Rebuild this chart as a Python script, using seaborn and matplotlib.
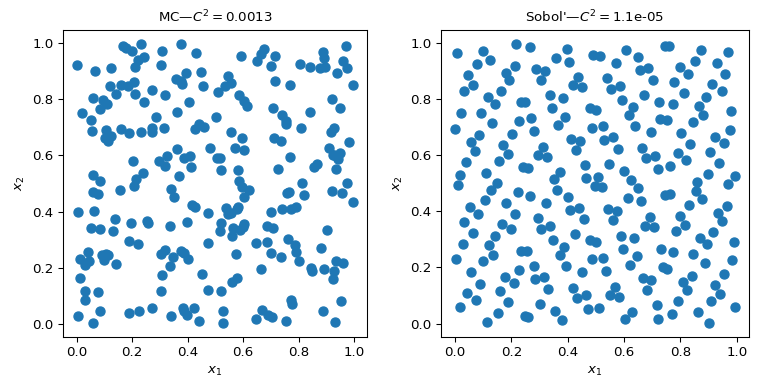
import matplotlib
matplotlib.use("Agg")
import matplotlib.pyplot as plt
import seaborn as sns

# Points (256 each in the original, ~250 recovered here)
mc_x = [
    0.000, 0.166, 0.177, 0.199, 0.231, 0.309, 0.376, 0.429, 0.220, 0.244,
    0.209, 0.305, 0.067, 0.124, 0.447, 0.394, 0.358, 0.376, 0.381, 0.456,
    0.120, 0.160, 0.185, 0.206, 0.142, 0.209, 0.273, 0.319, 0.060, 0.096,
    0.108, 0.085, 0.242, 0.406, 0.018, 0.050, 0.361, 0.284, 0.055, 0.104,
    0.160, 0.188, 0.231, 0.271, 0.271, 0.315, 0.440, 0.426, 0.459, 0.102,
    0.123, 0.112, 0.362, 0.202, 0.296, 0.325, 0.319, 0.388, 0.409, 0.411,
    0.060, 0.082, 0.240, 0.213, 0.367,
    0.677, 0.663, 0.651, 0.592, 0.716, 0.699, 0.805, 0.841, 0.887, 0.893,
    0.878, 0.896, 0.971, 0.961, 0.973, 0.939, 0.997, 0.545, 0.557, 0.533,
    0.510, 0.586, 0.604, 0.614, 0.716, 0.768, 0.706, 0.740, 0.755, 0.755,
    0.841, 0.807, 0.922, 0.950, 0.502, 0.926, 0.916, 0.557, 0.596, 0.982,
    0.482, 0.571, 0.603, 0.711, 0.737, 0.911, 0.929, 0.949, 0.943, 0.923,
    0.506, 0.518, 0.770, 0.521, 0.583, 0.724, 0.855, 0.867, 0.935,
    0.206, 0.156, 0.060, 0.078, 0.341, 0.349, 0.004, 0.063, 0.414, 0.426,
    0.136, 0.050, 0.085, 0.130, 0.195, 0.252, 0.255, 0.335, 0.397,
    0.190, 0.219, 0.039, 0.010, 0.031, 0.045, 0.090, 0.104, 0.114,
    0.099, 0.140, 0.305, 0.317, 0.348, 0.376, 0.388, 0.402, 0.337, 0.309,
    0.453, 0.013, 0.031, 0.031, 0.075, 0.305, 0.004, 0.057, 0.085,
    0.190, 0.224, 0.270, 0.341, 0.382, 0.388, 0.397, 0.421, 0.440,
    0.586, 0.597, 0.621, 0.603, 0.812, 0.973, 0.758, 0.766, 0.819, 0.922,
    0.958, 0.997, 0.475, 0.539, 0.545, 0.557, 0.577, 0.583, 0.699, 0.740,
    0.772, 0.790, 0.521, 0.518, 0.565, 0.559, 0.590, 0.603, 0.601, 0.687,
    0.706, 0.904, 0.645, 0.686, 0.763, 0.787, 0.792, 0.472, 0.701, 0.737,
    0.802, 0.575, 0.880, 0.846, 0.849, 0.890, 0.935, 0.961, 0.929, 0.924,
    0.666, 0.559, 0.579, 0.472, 0.521, 0.772, 0.778, 0.952, 0.667, 0.645,
    0.690, 0.703, 0.755, 0.527, 0.527, 0.887, 0.933,
]
mc_y = [
    0.921, 0.988, 0.979, 0.971, 0.995, 0.971, 0.995, 0.963, 0.939, 0.947,
    0.914, 0.921, 0.900, 0.908, 0.896, 0.893, 0.870, 0.865, 0.853, 0.845,
    0.845, 0.850, 0.845, 0.861, 0.819, 0.819, 0.833, 0.813, 0.802, 0.796,
    0.781, 0.764, 0.790, 0.788, 0.749, 0.724, 0.755, 0.737, 0.686, 0.689,
    0.694, 0.678, 0.682, 0.696, 0.682, 0.696, 0.710, 0.694, 0.700, 0.661,
    0.667, 0.649, 0.621, 0.578, 0.580, 0.596, 0.561, 0.590, 0.596, 0.558,
    0.529, 0.508, 0.536, 0.517, 0.527,
    0.976, 0.959, 0.935, 0.951, 0.951, 0.918, 0.925, 0.914, 0.968, 0.945,
    0.908, 0.914, 0.988, 0.933, 0.909, 0.892, 0.850, 0.880, 0.856, 0.845,
    0.823, 0.812, 0.792, 0.776, 0.865, 0.850, 0.769, 0.741, 0.723, 0.709,
    0.755, 0.695, 0.799, 0.766, 0.735, 0.697, 0.684, 0.682, 0.660, 0.647,
    0.625, 0.625, 0.617, 0.661, 0.651, 0.624, 0.600, 0.609, 0.585, 0.602,
    0.590, 0.590, 0.592, 0.549, 0.549, 0.552, 0.558, 0.567, 0.551,
    0.490, 0.476, 0.470, 0.462, 0.479, 0.452, 0.399, 0.403, 0.423, 0.415,
    0.373, 0.343, 0.338, 0.331, 0.359, 0.366, 0.358, 0.349, 0.364,
    0.297, 0.285, 0.258, 0.231, 0.211, 0.223, 0.246, 0.250, 0.245,
    0.229, 0.212, 0.250, 0.264, 0.237, 0.261, 0.252, 0.233, 0.205, 0.173,
    0.177, 0.163, 0.119, 0.087, 0.115, 0.119, 0.028, 0.005, 0.045,
    0.039, 0.046, 0.059, 0.028, 0.057, 0.046, 0.034, 0.057, 0.011,
    0.509, 0.488, 0.476, 0.450, 0.502, 0.502, 0.466, 0.470, 0.458, 0.473,
    0.466, 0.435, 0.396, 0.411, 0.390, 0.393, 0.409, 0.417, 0.398, 0.410,
    0.409, 0.417, 0.358, 0.332, 0.340, 0.313, 0.335, 0.356, 0.344, 0.349,
    0.340, 0.335, 0.290, 0.293, 0.304, 0.280, 0.258, 0.290, 0.254, 0.237,
    0.223, 0.250, 0.272, 0.201, 0.190, 0.197, 0.223, 0.217, 0.190, 0.161,
    0.197, 0.151, 0.164, 0.123, 0.119, 0.087, 0.070, 0.084, 0.052, 0.017,
    0.031, 0.024, 0.011, 0.048, 0.004, 0.046, 0.007,
]

sobol_x = [
    0.007, 0.099, 0.125, 0.079, 0.216, 0.266, 0.397, 0.358, 0.404, 0.047,
    0.064, 0.182, 0.192, 0.214, 0.287, 0.319, 0.305, 0.436, 0.419, 0.452,
    0.032, 0.163, 0.117, 0.143, 0.233, 0.250, 0.337, 0.383, 0.020, 0.092,
    0.344, 0.131, 0.227, 0.270, 0.280, 0.365, 0.390, 0.000, 0.057, 0.071,
    0.085, 0.170, 0.188, 0.202, 0.156, 0.312, 0.294, 0.326, 0.240, 0.258,
    0.413, 0.443, 0.429, 0.039, 0.018, 0.110, 0.461, 0.351, 0.372, 0.465,
    0.489, 0.514, 0.606, 0.649, 0.571, 0.657, 0.685, 0.744, 0.758, 0.872,
    0.968, 0.851, 0.929, 0.798, 0.826, 0.959, 0.539, 0.553, 0.585, 0.702,
    0.777, 0.812, 0.670, 0.594, 0.631, 0.616, 0.724, 0.773, 0.911, 0.947,
    0.890, 0.865, 0.880, 0.981, 0.478, 0.501, 0.486, 0.525, 0.638, 0.729,
    0.753, 0.844, 0.695, 0.802, 0.975, 0.528, 0.560, 0.578, 0.663, 0.677,
    0.709, 0.833, 0.922, 0.954, 0.791, 0.819, 0.904, 0.546, 0.599, 0.625,
    0.720, 0.763, 0.936, 0.897, 0.993, 0.507,
    0.012, 0.149, 0.128, 0.106, 0.224, 0.266, 0.362, 0.401, 0.322, 0.181,
    0.052, 0.082, 0.213, 0.408, 0.441, 0.458, 0.032, 0.167, 0.198, 0.294,
    0.305, 0.337, 0.064, 0.143, 0.426, 0.348, 0.121, 0.028, 0.387, 0.372,
    0.233, 0.255, 0.135, 0.099, 0.002, 0.280, 0.394, 0.057, 0.227, 0.177,
    0.209, 0.284, 0.316, 0.450, 0.330, 0.089, 0.160, 0.419, 0.043, 0.075,
    0.188, 0.302, 0.433, 0.465, 0.018, 0.153, 0.248, 0.259, 0.355, 0.380,
    0.114, 0.472,
    0.498, 0.521, 0.649, 0.614, 0.661, 0.858, 0.968, 0.856, 0.876, 0.744,
    0.763, 0.830, 0.933, 0.965, 0.947, 0.543, 0.575, 0.560, 0.693, 0.674,
    0.706, 0.798, 0.816, 0.784, 0.915, 0.869, 0.894, 0.989, 0.478, 0.501,
    0.589, 0.635, 0.596, 0.731, 0.773, 0.844, 0.645, 0.486, 0.525, 0.621,
    0.536, 0.738, 0.752, 0.887, 0.982, 0.954, 0.841, 0.667, 0.695, 0.810,
    0.681, 0.823, 0.922, 0.940, 0.567, 0.550, 0.582, 0.716, 0.791, 0.908,
    0.994, 0.511, 0.628, 0.603, 0.720, 0.770, 0.862, 0.901,
]
sobol_y = [
    0.963, 0.971, 0.939, 0.923, 0.995, 0.985, 0.978, 0.946, 0.932, 0.886,
    0.850, 0.893, 0.865, 0.918, 0.907, 0.900, 0.865, 0.879, 0.850, 0.843,
    0.826, 0.826, 0.806, 0.781, 0.788, 0.788, 0.812, 0.804, 0.749, 0.749,
    0.766, 0.713, 0.721, 0.730, 0.686, 0.706, 0.734, 0.691, 0.645, 0.614,
    0.670, 0.635, 0.603, 0.675, 0.578, 0.628, 0.600, 0.592, 0.558, 0.555,
    0.656, 0.649, 0.617, 0.575, 0.529, 0.536, 0.564, 0.515, 0.539, 0.519,
    0.956, 0.953, 0.974, 0.949, 0.928, 0.903, 0.910, 0.988, 0.988, 0.974,
    0.967, 0.935, 0.928, 0.914, 0.889, 0.889, 0.875, 0.836, 0.847, 0.868,
    0.860, 0.822, 0.815, 0.797, 0.769, 0.741, 0.790, 0.783, 0.854, 0.829,
    0.808, 0.776, 0.741, 0.755, 0.766, 0.759, 0.695, 0.702, 0.702, 0.727,
    0.723, 0.717, 0.681, 0.677, 0.688, 0.653, 0.663, 0.621, 0.624, 0.589,
    0.596, 0.638, 0.663, 0.642, 0.607, 0.582, 0.610, 0.568, 0.543, 0.511,
    0.550, 0.561, 0.571, 0.532, 0.525, 0.521,
    0.494, 0.502, 0.476, 0.441, 0.469, 0.455, 0.476, 0.450, 0.430, 0.430,
    0.416, 0.391, 0.391, 0.405, 0.412, 0.373, 0.363, 0.356, 0.335, 0.377,
    0.338, 0.349, 0.324, 0.310, 0.320, 0.299, 0.278, 0.285, 0.272, 0.243,
    0.257, 0.260, 0.243, 0.221, 0.230, 0.204, 0.204, 0.183, 0.190, 0.165,
    0.144, 0.158, 0.165, 0.183, 0.123, 0.140, 0.115, 0.126, 0.108, 0.084,
    0.077, 0.070, 0.091, 0.101, 0.059, 0.039, 0.027, 0.024, 0.045, 0.013,
    0.006, 0.052,
    0.490, 0.485, 0.482, 0.446, 0.438, 0.503, 0.497, 0.472, 0.444, 0.458,
    0.462, 0.423, 0.395, 0.419, 0.366, 0.409, 0.402, 0.370, 0.380, 0.349,
    0.342, 0.384, 0.352, 0.331, 0.327, 0.306, 0.282, 0.289, 0.297, 0.292,
    0.313, 0.303, 0.267, 0.264, 0.253, 0.246, 0.239, 0.229, 0.232, 0.207,
    0.186, 0.200, 0.193, 0.214, 0.225, 0.176, 0.168, 0.161, 0.154, 0.147,
    0.119, 0.119, 0.137, 0.105, 0.130, 0.101, 0.094, 0.066, 0.080, 0.080,
    0.059, 0.055, 0.041, 0.017, 0.017, 0.034, 0.041, 0.002,
]

titles = ["MC\u2014$C^2 = $0.0013", "Sobol'\u2014$C^2 = $1.1e-05"]

fig = plt.figure(figsize=(8, 4), dpi=96)
ax1 = fig.add_axes([63 / 768, 47 / 384, 304 / 768, 307 / 384])
ax2 = fig.add_axes([441 / 768, 47 / 384, 308 / 768, 307 / 384])

for ax, xs, ys, title in [(ax1, mc_x, mc_y, titles[0]), (ax2, sobol_x, sobol_y, titles[1])]:
    sns.scatterplot(x=xs, y=ys, ax=ax, s=46, color="#1f77b4",
                    edgecolor="#1f77b4", linewidth=1)
    ax.set_title(title, fontsize=10)
    ax.set_xlabel("$x_1$")
    ax.set_ylabel("$x_2$")

fig.savefig("out.png", dpi=96)
